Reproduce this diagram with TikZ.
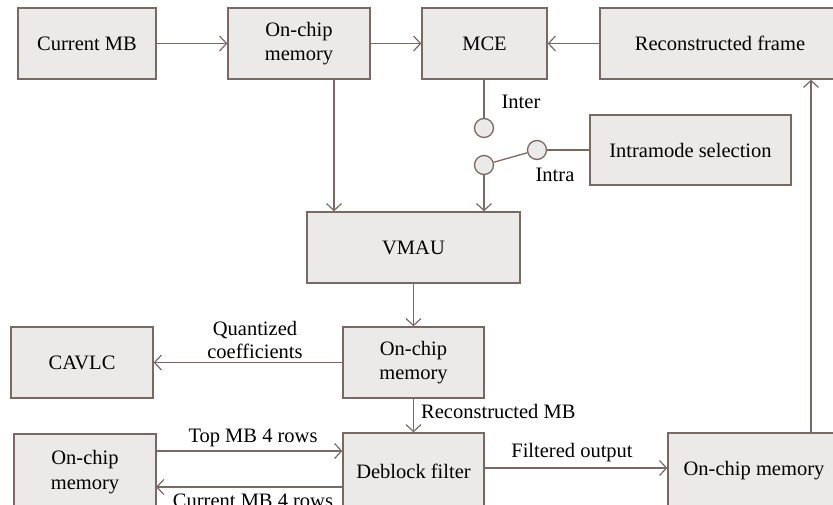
\documentclass[tikz,border=0pt]{standalone}
\usepackage{fontspec}
\setmainfont{Liberation Serif}
\usetikzlibrary{arrows.meta}
\definecolor{edge}{HTML}{7A6863}
\definecolor{boxfill}{HTML}{ECE9E9}
\tikzset{
  blk/.style={draw=edge, fill=boxfill, line width=1.3pt, inner sep=0pt, align=center,
    font=\fontsize{20.5}{24.5}\selectfont},
  sw/.style={circle, draw=edge, fill=boxfill, line width=1.3pt, minimum size=19pt, inner sep=0pt},
  lbl/.style={font=\fontsize{20.5}{23}\selectfont, inner sep=0pt, align=center},
  link/.style={draw=edge, line width=1.3pt},
  arr/.style={link, -{Straight Barb[length=7pt, width=15pt, line width=1.2pt]}},
}
\begin{document}
\begin{tikzpicture}[x=1pt, y=-1pt]
\useasboundingbox (0,0) rectangle (833,504);
\clip (0,0) rectangle (833,504);

% processing blocks
\node[blk, minimum width=138pt, minimum height=71pt] (cur)   at (87,43.5)    {Current MB};
\node[blk, minimum width=142pt, minimum height=71pt] (mem1)  at (299,43.5)   {On-chip\\memory};
\node[blk, minimum width=125pt, minimum height=71pt] (mce)   at (484.5,43.5) {MCE};
\node[blk, minimum width=240pt, minimum height=71pt] (rf)    at (720,43.5)   {Reconstructed frame};
\node[blk, minimum width=201pt, minimum height=70pt] (intra) at (690.5,150)  {Intramode selection};
\node[blk, minimum width=213pt, minimum height=71pt] (vmau)  at (413.5,247.5){VMAU};
\node[blk, minimum width=142pt, minimum height=71pt] (cav)   at (82,362.5)   {CAVLC};
\node[blk, minimum width=141pt, minimum height=71pt] (mem2)  at (413.5,362.5){On-chip\\memory};
\node[blk, minimum width=141pt, minimum height=76pt] (dbf)   at (413.5,471)  {Deblock filter};
\node[blk, minimum width=142pt, minimum height=76pt] (mem3)  at (85,472)     {On-chip\\memory};
\node[blk, minimum width=172pt, minimum height=76pt] (mem4)  at (754,471)    {On-chip memory};

% mode switch contacts
\node[sw] (pinter) at (484,128) {};
\node[sw] (pcom)   at (484,165) {};
\node[sw] (pintra) at (537,150) {};

% top row
\draw[arr] (cur) -- (mem1);
\draw[arr] (mem1) -- (mce);
\draw[arr] (rf.west |- mce) -- (mce);

% switch wiring
\draw[link] (mce.south -| pinter) -- (pinter);
\draw[link] (pcom) -- (pintra);
\draw[link] (pintra) -- (intra.west |- pintra);
\node[lbl] at (521,102) {Inter};
\node[lbl] at (555,175) {Intra};

% into and out of VMAU
\coordinate (m1d) at (334,79);
\draw[arr] (m1d) -- (vmau.north -| m1d);
\draw[arr] (pcom) -- (vmau.north -| pcom);
\draw[arr] (vmau) -- (mem2);

% coefficients and reconstruction
\draw[arr] (mem2) -- (cav);
\node[lbl] at (255,340) {Quantized\\coefficients};
\draw[arr] (mem2) -- (dbf);
\node[lbl, anchor=west] at (421,411) {Reconstructed MB};

% deblocking neighbours
\coordinate (tA) at (156,451);
\coordinate (tB) at (156,487);
\draw[arr] (tA) -- (dbf.west |- tA);
\draw[arr] (dbf.west |- tB) -- (tB);
\node[lbl] at (253,438) {Top MB 4 rows};
\node[lbl] at (253,501) {Current MB 4 rows};

% filtered output back to the frame store
\draw[arr] (dbf.east |- 0,468) -- (mem4.west |- 0,468);
\node[lbl] at (572,453) {Filtered output};
\coordinate (fb) at (811,434);
\draw[arr] (fb) -- (rf.south -| fb);
\end{tikzpicture}
\end{document}
